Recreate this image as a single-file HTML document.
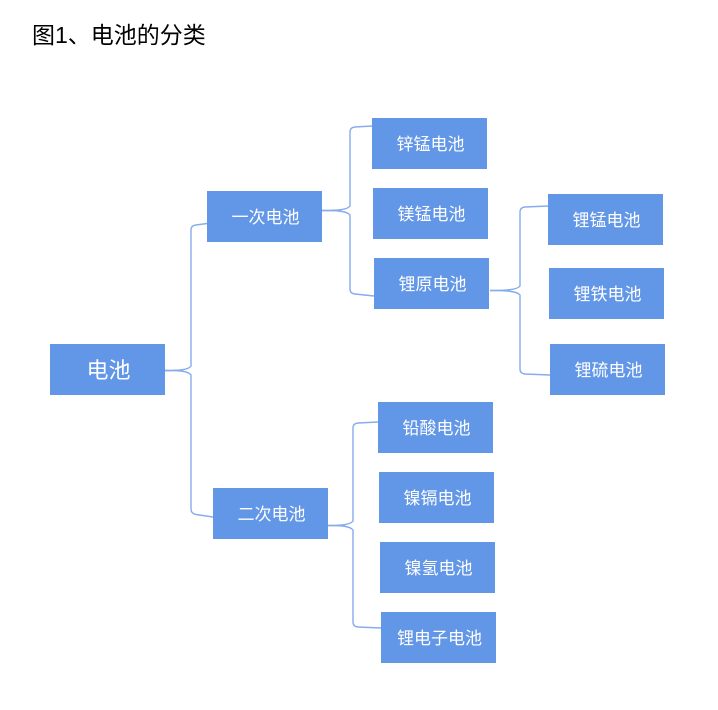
<!DOCTYPE html>
<html>
<head>
<meta charset="utf-8">
<style>
  html,body{margin:0;padding:0;background:#fff;}
  body{width:718px;height:710px;position:relative;overflow:hidden;
       font-family:"Liberation Sans","Noto Sans CJK SC",sans-serif;}
  .title{position:absolute;left:32px;top:20px;font-size:23px;line-height:30px;color:#000;white-space:nowrap;}
  .b{position:absolute;width:115px;height:51px;background:#6296e6;color:#fff;
     display:flex;align-items:center;justify-content:center;font-size:17px;white-space:nowrap;padding-left:2px;padding-bottom:2px;box-sizing:border-box;}
  .root{font-size:22px;}
  svg{position:absolute;left:0;top:0;}
</style>
</head>
<body>
<div class="title">图1、电池的分类</div>

<svg width="718" height="710" viewBox="0 0 718 710">
  <g fill="none" stroke="#86acec" stroke-width="1.4">
    <!-- root brace -->
    <path d="M165 370.5 C180 370.5 188 370 191 366 L191 230 Q191 225.5 196 225 L207 223.5"/>
    <path d="M165 370.5 C180 370.5 188 371 191 375 L191 509 Q191 513.5 196 514.5 L213 517"/>
    <!-- 一次 brace -->
    <path d="M322 210.5 C337 210.5 347 210 350 206 L350 132 Q350 127.5 355 127 L372 126"/>
    <path d="M322 210.5 C337 210.5 347 211 350 215 L350 289 Q350 293.5 355 294 L374 296"/>
    <!-- 锂原 brace -->
    <path d="M490 290.5 C505 290.5 517 290 520 286 L520 212 Q520 207.5 525 207 L548 206"/>
    <path d="M490 290.5 C505 290.5 517 291 520 295 L520 369 Q520 373.5 525 374 L550 375"/>
    <!-- 二次 brace -->
    <path d="M328 525.5 C341 525.5 350 525 353 521 L353 428 Q353 423.5 358 423 L378 422"/>
    <path d="M328 525.5 C341 525.5 350 526 353 530 L353 622 Q353 626.5 358 627 L381 628"/>
  </g>
</svg>

<div class="b root" style="left:50px;top:344px;">电池</div>

<div class="b" style="left:207px;top:191px;">一次电池</div>
<div class="b" style="left:213px;top:488px;">二次电池</div>

<div class="b" style="left:372px;top:118px;">锌锰电池</div>
<div class="b" style="left:373px;top:188px;">镁锰电池</div>
<div class="b" style="left:374px;top:258px;">锂原电池</div>

<div class="b" style="left:548px;top:194px;">锂锰电池</div>
<div class="b" style="left:549px;top:268px;">锂铁电池</div>
<div class="b" style="left:550px;top:344px;">锂硫电池</div>

<div class="b" style="left:378px;top:402px;">铅酸电池</div>
<div class="b" style="left:379px;top:472px;">镍镉电池</div>
<div class="b" style="left:380px;top:542px;">镍氢电池</div>
<div class="b" style="left:381px;top:612px;">锂电子电池</div>
</body>
</html>
